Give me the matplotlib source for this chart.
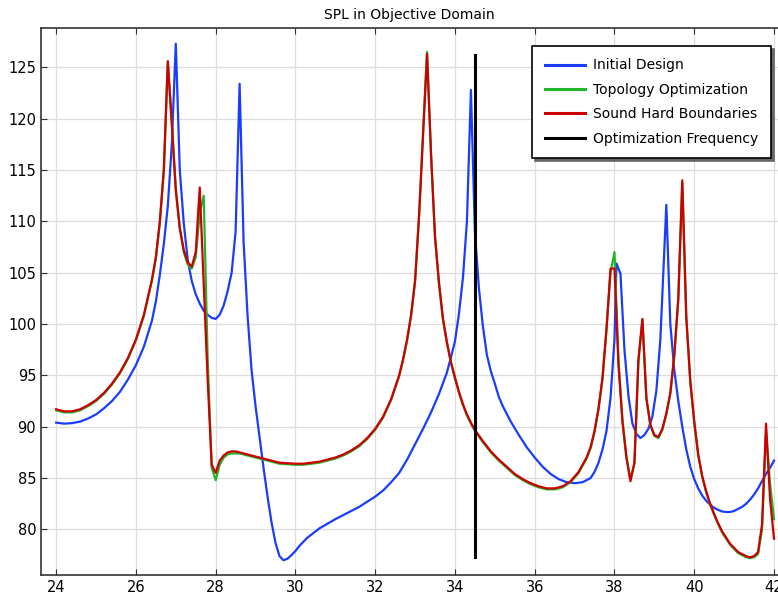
import numpy as np
import matplotlib.pyplot as plt


# Frequência [Hz] e SPL [dB]
freq_initial = [24.0, 24.2, 24.4, 24.6, 24.8, 25.0, 25.2, 25.4, 25.6, 25.8, 26.0, 26.2, 26.4, 26.5, 26.6, 26.7, 26.8, 26.9,
                27.0, 27.1, 27.2, 27.3, 27.4, 27.5, 27.6, 27.7, 27.8, 27.9, 28.0, 28.1, 28.2, 28.3, 28.4, 28.5, 28.6, 28.7,
                28.8, 28.9, 29.0, 29.1, 29.2, 29.3, 29.4, 29.5, 29.6, 29.7, 29.8, 29.9, 30.0, 30.1, 30.2, 30.3, 30.4, 30.5,
                30.6, 30.8, 31.0, 31.2, 31.4, 31.6, 31.8, 32.0, 32.2, 32.4, 32.6, 32.8, 33.0, 33.2, 33.4, 33.6, 33.8, 34.0,
                34.1, 34.2, 34.3, 34.4, 34.5, 34.6, 34.7, 34.8, 34.9, 35.0, 35.1, 35.2, 35.4, 35.6, 35.8, 36.0, 36.2, 36.4,
                36.6, 36.8, 37.0, 37.2, 37.4, 37.5, 37.6, 37.7, 37.8, 37.9, 38.0, 38.05, 38.15, 38.25, 38.35, 38.45, 38.55, 38.65,
                38.75, 38.85, 38.95, 39.05, 39.15, 39.3, 39.4, 39.5, 39.6, 39.7, 39.8, 39.9, 40.0, 40.1, 40.2, 40.3, 40.4, 40.5,
                40.6, 40.7, 40.8, 40.9, 41.0, 41.1, 41.2, 41.3, 41.4, 41.5, 41.6, 41.7, 41.8, 41.9, 42.0]
spl_initial = [90.4, 90.3, 90.35, 90.5, 90.8, 91.2, 91.8, 92.5, 93.4, 94.6, 96.0, 97.8, 100.3, 102.2, 104.8, 107.8, 111.5, 117.5,
               127.3, 115.0, 109.8, 106.2, 104.2, 102.9, 102.0, 101.3, 100.9, 100.6, 100.5, 100.9, 101.8, 103.2, 105.0, 109.0, 123.4, 108.0,
               100.8, 95.5, 92.0, 89.0, 86.0, 83.2, 80.7, 78.7, 77.4, 77.0, 77.15, 77.5, 77.9, 78.4, 78.8, 79.2, 79.5, 79.8,
               80.1, 80.55, 81.0, 81.4, 81.8, 82.2, 82.7, 83.2, 83.8, 84.6, 85.5, 86.8, 88.3, 89.8, 91.4, 93.2, 95.3, 98.3,
               101.0, 104.5, 110.0, 122.8, 109.0, 103.5, 99.8, 97.0, 95.4, 94.2, 92.9, 92.0, 90.5, 89.2, 88.0, 87.0, 86.1, 85.4,
               84.9, 84.6, 84.5, 84.6, 85.0, 85.6, 86.5, 87.8, 89.6, 92.8, 98.5, 105.9, 104.9, 97.5, 93.0, 90.3, 89.3, 88.9,
               89.2, 89.8, 91.0, 93.5, 98.5, 111.6, 100.0, 95.5, 92.5, 90.0, 87.8, 86.1, 84.9, 84.0, 83.3, 82.8, 82.4, 82.1,
               81.9, 81.75, 81.7, 81.7, 81.8, 82.0, 82.2, 82.5, 82.9, 83.4, 84.0, 84.7, 85.4, 86.0, 86.7]

freq_opt = [24.0, 24.2, 24.4, 24.6, 24.8, 25.0, 25.2, 25.4, 25.6, 25.8, 26.0, 26.2, 26.4, 26.5, 26.6, 26.7, 26.8, 26.9,
            27.0, 27.1, 27.2, 27.3, 27.4, 27.5, 27.6, 27.7, 27.8, 27.9, 28.0, 28.1, 28.2, 28.3, 28.4, 28.5, 28.6, 28.8,
            29.0, 29.2, 29.4, 29.6, 29.8, 30.0, 30.2, 30.4, 30.6, 30.8, 31.0, 31.2, 31.4, 31.6, 31.8, 32.0, 32.2, 32.4,
            32.6, 32.7, 32.8, 32.9, 33.0, 33.1, 33.2, 33.3, 33.4, 33.5, 33.6, 33.7, 33.8, 33.9, 34.0, 34.1, 34.2, 34.3,
            34.4, 34.5, 34.7, 34.9, 35.1, 35.3, 35.5, 35.7, 35.9, 36.1, 36.3, 36.5, 36.7, 36.9, 37.1, 37.3, 37.4, 37.5,
            37.6, 37.7, 37.8, 37.9, 38.0, 38.1, 38.2, 38.3, 38.4, 38.5, 38.6, 38.7, 38.8, 38.9, 39.0, 39.1, 39.2, 39.3,
            39.4, 39.5, 39.6, 39.7, 39.8, 39.9, 40.0, 40.1, 40.2, 40.3, 40.4, 40.5, 40.6, 40.7, 40.8, 40.9, 41.0, 41.1,
            41.2, 41.3, 41.4, 41.5, 41.6, 41.7, 41.8, 41.9, 42.0]
spl_sound_hard = [91.7, 91.5, 91.5, 91.7, 92.1, 92.6, 93.3, 94.2, 95.3, 96.7, 98.5, 100.9, 104.3, 106.5, 110.0, 115.0, 125.6, 119.5,
                  113.0, 109.3, 107.2, 106.0, 105.6, 107.0, 113.3, 104.0, 94.5, 86.3, 85.5, 86.7, 87.2, 87.5, 87.6, 87.6, 87.5, 87.3,
                  87.1, 86.9, 86.7, 86.5, 86.45, 86.4, 86.4, 86.5, 86.6, 86.8, 87.0, 87.3, 87.7, 88.2, 88.9, 89.8, 91.0, 92.7,
                  95.0, 96.6, 98.5, 100.9, 104.2, 110.5, 118.5, 126.3, 116.5, 108.5, 104.0, 100.5, 98.2, 96.3, 94.8, 93.4, 92.2, 91.2,
                  90.4, 89.7, 88.6, 87.6, 86.8, 86.1, 85.4, 84.9, 84.5, 84.2, 84.0, 84.0, 84.2, 84.7, 85.6, 87.0, 88.0, 89.6,
                  91.8, 94.8, 99.5, 105.4, 105.4, 96.0, 90.5, 87.0, 84.7, 86.5, 96.5, 100.5, 92.8, 90.2, 89.2, 89.0, 89.8, 91.3,
                  93.3, 97.0, 102.5, 114.0, 100.7, 94.5, 90.5, 87.3, 85.2, 83.7, 82.5, 81.5, 80.6, 79.8, 79.2, 78.6, 78.2, 77.8,
                  77.6, 77.4, 77.3, 77.4, 77.8, 80.5, 90.3, 83.0, 79.1]
spl_topology = [91.6, 91.4, 91.4, 91.6, 92.0, 92.5, 93.2, 94.1, 95.2, 96.6, 98.4, 100.8, 104.2, 106.4, 109.9, 115.0, 125.5, 119.6,
                113.2, 109.4, 107.0, 105.8, 105.4, 106.5, 110.8, 112.5, 96.5, 86.0, 84.8, 86.3, 87.0, 87.3, 87.4, 87.4, 87.4, 87.2,
                87.0, 86.8, 86.6, 86.4, 86.35, 86.3, 86.3, 86.4, 86.5, 86.7, 86.9, 87.2, 87.6, 88.1, 88.8, 89.7, 90.9, 92.6,
                94.9, 96.5, 98.4, 100.8, 104.2, 110.6, 118.7, 126.5, 116.6, 108.4, 103.9, 100.4, 98.1, 96.2, 94.7, 93.3, 92.1, 91.1,
                90.3, 89.6, 88.5, 87.5, 86.7, 86.0, 85.3, 84.8, 84.4, 84.1, 83.9, 83.9, 84.1, 84.6, 85.5, 86.9, 87.9, 89.5,
                91.7, 94.7, 99.6, 105.0, 107.0, 96.5, 90.6, 87.0, 84.9, 86.4, 96.4, 100.4, 92.7, 90.1, 89.1, 88.9, 89.7, 91.2,
                93.2, 96.9, 102.4, 113.8, 100.6, 94.4, 90.4, 87.2, 85.1, 83.6, 82.4, 81.4, 80.5, 79.7, 79.1, 78.5, 78.1, 77.7,
                77.5, 77.3, 77.2, 77.3, 77.6, 80.0, 89.5, 84.5, 81.0]

# Frequência de otimização (linha vertical)
opt_freq = 34.5
opt_range = [77.3, 126.2]


def plot_graph():
    fig = plt.figure(figsize=(7.78, 5.99), dpi=100)
    ax = fig.add_axes([0.0527, 0.04, 0.9473, 0.9128])

    # Curvas de SPL
    ax.plot(freq_initial, spl_initial, color="#1a3cff", lw=1.6, label="Initial Design")
    ax.plot(freq_opt, spl_topology, color="#22b52a", lw=1.6, label="Topology Optimization")
    ax.plot(freq_opt, spl_sound_hard, color="#cc0000", lw=1.6, label="Sound Hard Boundaries")
    ax.plot([opt_freq, opt_freq], opt_range, color="black", lw=2.2, label="Optimization Frequency")

    ax.set_xlim(23.62, 42.1)
    ax.set_ylim(75.56, 128.8)
    ax.set_xticks(np.arange(24, 43, 2))
    ax.set_yticks(np.arange(80, 126, 5))
    ax.grid(True, color="#dddddd", lw=0.9)
    ax.set_axisbelow(True)
    ax.tick_params(direction="in", top=True, length=4, labelsize=10.5, colors="#333333",
                   labelcolor="black")
    for side in ["left", "bottom", "top"]:
        ax.spines[side].set_color("#333333")
        ax.spines[side].set_linewidth(1.2)
    ax.spines["right"].set_visible(False)

    ax.set_title("SPL in Objective Domain", fontsize=10, pad=7)

    leg = ax.legend(loc="upper right", bbox_to_anchor=(0.9905, 0.9676), borderaxespad=0,
                    fontsize=10, frameon=True, fancybox=False, shadow={"color": "#666666", "alpha": 1},
                    edgecolor="black", handlelength=2.9, handletextpad=0.6, labelspacing=0.75,
                    borderpad=0.9)
    leg.get_frame().set_linewidth(1.2)
    for line in leg.get_lines():
        line.set_linewidth(2.2)

    fig.savefig("out.png", dpi=100)


plot_graph()
